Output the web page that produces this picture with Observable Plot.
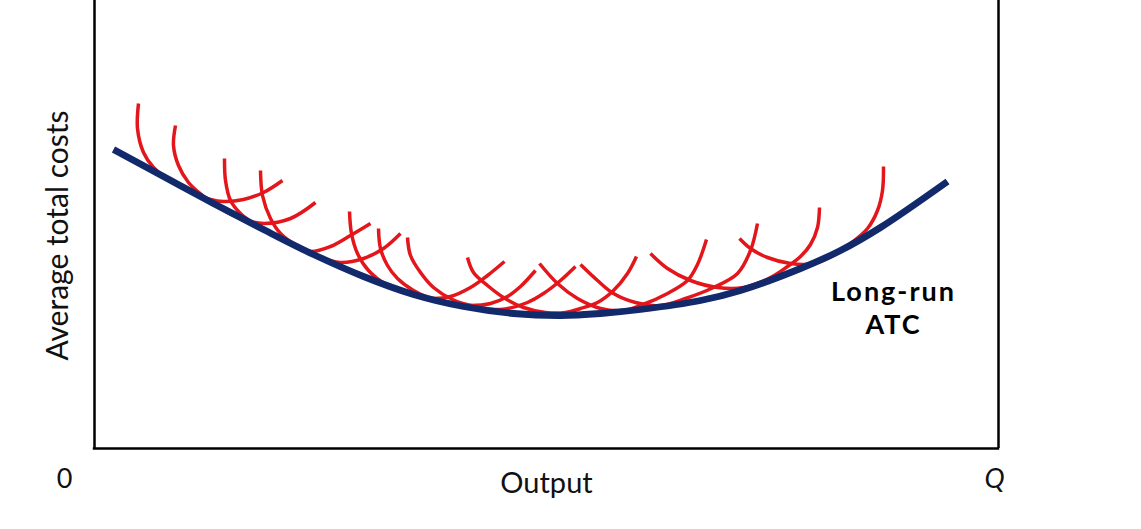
<!DOCTYPE html>
<html>
<head>
<meta charset="utf-8">
<script src="https://cdn.jsdelivr.net/npm/d3@7"></script>
<script src="https://cdn.jsdelivr.net/npm/@observablehq/plot@0.6"></script>
<style>
  html, body { margin: 0; padding: 0; background: #fff; }
  #chart { width: 1141px; height: 529px; overflow: hidden; }
</style>
</head>
<body>
<div id="chart"></div>
<script>
// Long-run average total cost curve (output, cost)
const lratcOutput = [1.9, 6.9, 11.9, 16.9, 21.9, 26.9, 31.9, 36.9, 41.9, 46.6, 50.6, 54.6, 60.6, 64.6, 70.6, 74.6, 78.6, 85.3];
const lratcCost   = [29.9, 27.2, 24.5, 21.9, 19.4, 17.2, 15.4, 14.2, 13.5, 13.3, 13.5, 13.9, 14.8, 15.8, 18.0, 19.8, 22.1, 26.7];

// Short-run average total cost curves: [output, cost]
const sratc1  = [[4.4,34.5],[4.3,32.0],[4.9,29.6],[5.9,28.1],[7.1,27.1],[8.6,26.3],[10.3,25.4],[11.6,24.9],[12.9,24.7],[14.9,24.9],[16.9,25.6],[18.8,26.8]];
const sratc2  = [[8.1,32.3],[7.9,30.3],[8.4,28.3],[9.4,26.6],[10.8,25.3],[12.6,24.0],[14.6,23.0],[16.9,22.5],[19.6,23.0],[22.1,24.6]];
const sratc3  = [[13.0,29.0],[13.1,26.8],[13.6,24.8],[14.6,23.5],[15.9,22.5],[17.6,21.5],[19.6,20.4],[21.6,19.7],[23.6,20.2],[25.6,21.3],[27.6,22.5]];
const sratc4  = [[16.6,27.8],[16.8,25.3],[17.6,23.0],[18.6,21.5],[20.3,20.2],[22.3,19.2],[24.6,18.6],[26.9,19.0],[28.9,20.0],[30.6,21.5]];
const sratc5  = [[25.5,23.7],[25.7,21.5],[26.3,19.5],[27.4,17.8],[29.3,16.3],[31.6,15.4],[33.6,15.0],[35.6,15.2],[37.6,16.1],[39.3,17.3],[41.0,18.7]];
const sratc6  = [[28.4,22.0],[28.6,20.0],[29.3,18.3],[30.3,17.0],[31.9,15.8],[33.6,15.0],[35.6,14.5],[37.6,14.3],[39.6,14.5],[41.3,15.2],[42.6,16.2],[44.1,17.8]];
const sratc7  = [[31.3,21.1],[31.6,19.3],[32.6,17.6],[33.9,16.1],[35.8,14.9],[38.1,14.2],[40.6,13.9],[43.3,14.6],[44.9,15.5],[46.6,16.8],[48.1,18.2]];
const sratc8  = [[37.3,19.1],[37.9,17.6],[39.3,16.3],[40.9,15.1],[42.9,14.1],[45.1,13.6],[47.1,13.6],[48.6,14.0],[50.3,14.6],[51.9,15.8],[53.3,17.5],[54.2,19.2]];
const sratc9  = [[44.5,18.5],[46.3,16.5],[48.3,15.0],[50.6,14.0],[52.8,13.8],[55.1,14.5],[57.1,15.4],[59.3,16.8],[60.3,18.4],[61.2,20.9]];
const sratc10 = [[48.6,18.4],[50.3,16.8],[51.9,15.5],[54.1,14.6],[56.6,14.3],[59.1,15.0],[61.9,16.1],[64.3,17.5],[65.6,19.8],[66.3,22.5]];
const sratc11 = [[55.6,19.5],[57.3,18.0],[59.6,16.8],[62.3,16.1],[64.9,16.1],[67.6,17.1],[69.3,18.2],[70.6,19.2],[71.6,20.4],[72.3,22.1],[72.5,24.1]];
const sratc12 = [[64.5,21.0],[65.6,20.0],[67.3,19.1],[69.6,18.5],[71.9,18.5],[74.1,19.4],[75.6,20.5],[77.3,22.0],[78.3,23.8],[78.8,25.8],[78.9,28.2]];

// Axis extent and labels
const outputMax = 90.4;
const costMax = 44.8;
const originLabel = "0";
const originLabelOutput = -3.0;
const quantityLabel = "Q";
const quantityLabelOutput = 90.0;
const tickLabelCost = -3.9;
const xLabel = "Output";
const yLabel = "Average total costs";
const curveLabel = "Long-run\nATC";
const curveLabelOutput = 79.9;
const curveLabelCost = 11.5;

const lratc = lratcOutput.map((x, i) => ({x, y: lratcCost[i]}));
const sratc = [sratc1, sratc2, sratc3, sratc4, sratc5, sratc6, sratc7, sratc8, sratc9, sratc10, sratc11, sratc12]
  .flatMap((pts, k) => pts.map(([x, y]) => ({x, y, curve: k})));

const font = "Lato, 'Open Sans', sans-serif";

const chart = Plot.plot({
  width: 1141,
  height: 529,
  marginLeft: 94,
  marginRight: 143,
  marginTop: 0,
  marginBottom: 81,
  style: {background: "#fff", fontFamily: font, color: "#111"},
  x: {domain: [0, outputMax], axis: null},
  y: {domain: [0, costMax], axis: null},
  marks: [
    Plot.line(sratc, {x: "x", y: "y", z: "curve", stroke: "#e3161b", strokeWidth: 3.5, curve: "catmull-rom", strokeLinecap: "butt"}),
    Plot.line(lratc, {x: "x", y: "y", stroke: "#12296b", strokeWidth: 6.8, curve: "catmull-rom", strokeLinecap: "butt"}),
    Plot.ruleX([0, outputMax], {stroke: "#000", strokeWidth: 2.5}),
    Plot.ruleY([0], {stroke: "#000", strokeWidth: 2.5, x1: -0.12, x2: outputMax + 0.12}),
    Plot.text([originLabel], {x: originLabelOutput, y: tickLabelCost, text: d => d, fontSize: 27, lineAnchor: "bottom", textAnchor: "middle", fill: "#111"}),
    Plot.text([quantityLabel], {x: quantityLabelOutput, y: tickLabelCost, text: d => d, fontSize: 27, fontStyle: "italic", lineAnchor: "bottom", textAnchor: "middle", fill: "#111"}),
    Plot.text([xLabel], {x: outputMax / 2, y: -4.4, text: d => d, fontSize: 29, lineAnchor: "bottom", textAnchor: "middle", fill: "#111"}),
    Plot.text([yLabel], {x: -2.7, y: 21.3, text: d => d, rotate: -90, fontSize: 30, lineAnchor: "bottom", textAnchor: "middle", fill: "#111"}),
    Plot.text([curveLabel], {x: curveLabelOutput, y: curveLabelCost, text: d => d, fontSize: 27, lineHeight: 1.2, fontWeight: "bold", lineAnchor: "bottom", textAnchor: "middle", fill: "#000"})
  ]
});
d3.select(chart).selectAll("text")
  .filter(function() { return this.textContent.includes("Long-run"); })
  .attr("style", "letter-spacing: 2px")
  .selectAll("tspan").attr("style", "letter-spacing: 2px");
document.getElementById("chart").appendChild(chart);
</script>
</body>
</html>
